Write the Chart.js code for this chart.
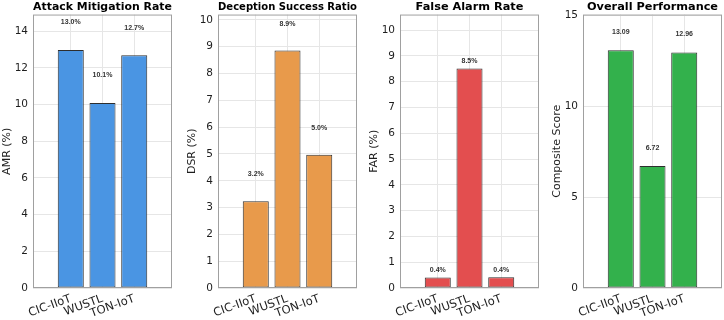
<!DOCTYPE html>
<html>
<head>
<meta charset="utf-8">
<script src="https://cdn.jsdelivr.net/npm/chart.js@4"></script>
<style>
  html, body { margin: 0; padding: 0; background: #fff; }
  #wrap { position: relative; width: 724px; height: 320px; overflow: hidden; }
  canvas { position: absolute; top: 0; }
</style>
</head>
<body>
<div id="wrap">
  <canvas id="amrChart" width="180" height="320" style="left:0px"></canvas>
  <canvas id="dsrChart" width="180" height="320" style="left:185px"></canvas>
  <canvas id="farChart" width="180" height="320" style="left:367px"></canvas>
  <canvas id="compChart" width="174" height="320" style="left:550px"></canvas>
</div>
<script>
const categories = ["CIC-IIoT", "WUSTL", "TON-IoT"];
const amrValues = [12.97, 10.08, 12.68];
const dsrValues = [3.24, 8.86, 4.97];
const farValues = [0.41, 8.51, 0.42];
const compositeValues = [13.09, 6.72, 12.96];

const FONT = "'DejaVu Sans', sans-serif";

// draws the axes box and the value labels above the bars
const panelDecor = {
  id: "panelDecor",
  afterDatasetsDraw(chart, args, opts) {
    const { ctx, chartArea: a, scales } = chart;
    ctx.save();
    ctx.strokeStyle = "#a0a0a0";
    ctx.lineWidth = 1;
    ctx.strokeRect(a.left + 0.5, a.top + 0.5, a.right - a.left - 1, a.bottom - a.top - 1);

    ctx.font = "bold 7px 'Liberation Sans', Arial, sans-serif";
    ctx.fillStyle = "#333";
    ctx.textAlign = "center";
    ctx.textBaseline = "middle";
    chart.data.datasets[0].data.forEach(pt => {
      const px = scales.x.getPixelForValue(pt.x);
      const py = scales.y.getPixelForValue(pt.y + opts.offset);
      ctx.fillText(pt.y.toFixed(opts.digits) + opts.suffix, px, py);
    });
    ctx.restore();
  }
};

function makePanel(id, title, yTitle, values, color, yMax, step, labelOffset, digits, suffix) {
  const canvas = document.getElementById(id);
  return new Chart(canvas, {
    type: "bar",
    data: {
      datasets: [{
        data: values.map((v, i) => ({ x: i + 1, y: v })),
        backgroundColor: color,
        borderColor: "#2e2e2e",
        borderWidth: 1,
        borderSkipped: false,
        categoryPercentage: 1,
        barPercentage: 0.82
      }]
    },
    options: {
      responsive: false,
      animation: false,
      devicePixelRatio: 1,
      layout: { padding: { left: 0, right: canvas.width - 33 - 139, top: 0, bottom: 0 } },
      plugins: {
        legend: { display: false },
        tooltip: { enabled: false },
        title: {
          display: true,
          text: title,
          fullSize: false,
          color: "#000",
          font: { family: FONT, size: 11.3, weight: "bold", lineHeight: 1.2 },
          padding: { top: 0, bottom: 1 }
        },
        panelDecor: { offset: labelOffset, digits: digits, suffix: suffix }
      },
      scales: {
        x: {
          type: "linear",
          offset: false,
          min: -0.19,
          max: 4.19,
          afterBuildTicks: s => { s.ticks = categories.map((c, i) => ({ value: i + 1 })); },
          afterFit: s => { s.height = 32; },
          grid: { color: "#e6e6e6", drawTicks: false, offset: false },
          border: { display: false },
          ticks: {
            autoSkip: false,
            minRotation: 20,
            maxRotation: 20,
            padding: 4,
            color: "#1e1e1e",
            font: { family: FONT, size: 11.5 },
            callback: v => categories[v - 1] || ""
          }
        },
        y: {
          min: 0,
          max: yMax,
          afterFit: s => { s.width = 33; },
          grid: { color: "#e6e6e6", drawTicks: false },
          border: { display: false },
          ticks: {
            stepSize: step,
            includeBounds: false,
            padding: 5,
            color: "#1e1e1e",
            font: { family: FONT, size: 10.5 }
          },
          title: {
            display: true,
            text: yTitle,
            color: "#1e1e1e",
            font: { family: FONT, size: 11, lineHeight: 1.2 },
            padding: { top: 1, bottom: 0 }
          }
        }
      }
    },
    plugins: [panelDecor]
  });
}

makePanel("amrChart", "Attack Mitigation Rate", "AMR (%)", amrValues, "#4a95e3", 14.9, 2, 1.5, 1, "%");
makePanel("dsrChart", "Deception Success Ratio", "DSR (%)", dsrValues, "#e89a4b", 10.2, 1, 1.0, 1, "%");
makePanel("farChart", "False Alarm Rate", "FAR (%)", farValues, "#e34e4f", 10.6, 1, 0.27, 1, "%");
makePanel("compChart", "Overall Performance", "Composite Score", compositeValues, "#33b14c", 15.05, 5, 1.0, 2, "");
</script>
</body>
</html>
